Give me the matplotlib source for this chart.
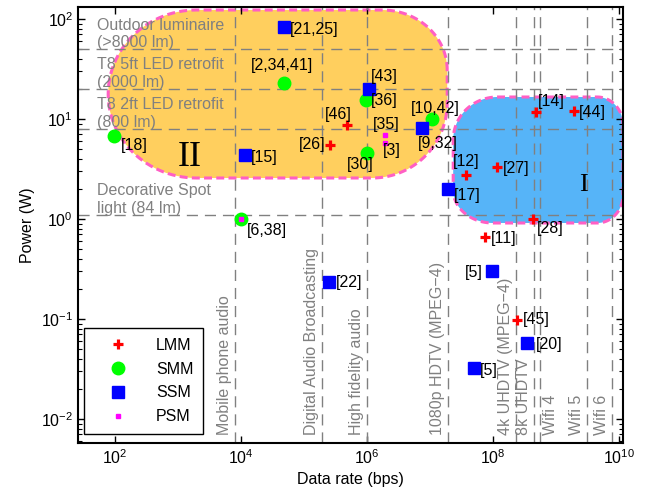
import numpy as np
import matplotlib
matplotlib.use("Agg")
import matplotlib.pyplot as plt
from matplotlib.ticker import LogLocator, NullLocator, FixedLocator

plt.rcParams['font.family'] = ['Liberation Sans', 'DejaVu Sans']
plt.rcParams['mathtext.fontset'] = 'custom'
plt.rcParams['mathtext.rm'] = 'Liberation Sans'
plt.rcParams['mathtext.default'] = 'regular'

# LMM (red plus)
lmm_rate = [2.6e5, 4.8e5, 3.7e7, 1.15e8, 4.8e8, 1.9e9, 4.3e8, 7.4e7, 2.4e8]
lmm_power = [5.5, 8.7, 2.75, 3.3, 11.7, 12.0, 1.0, 0.66, 0.098]
lmm_refs = ['[26]', '[46]', '[12]', '[27]', '[14]', '[44]', '[28]', '[11]', '[45]']

# SMM (green circles)
smm_rate = [96, 4.8e4, 9.6e5, 1.0e6, 1.07e7, 1.0e4]
smm_power = [6.8, 23, 15.5, 4.6, 10.0, 1.0]
smm_refs = ['[18]', '[2,34,41]', '[36]', '[30]', '[10,42]', '[6,38]']

# SSM (blue squares)
ssm_rate = [4.8e4, 1.07e6, 1.16e4, 7.5e6, 1.9e7, 2.5e5, 9.4e7, 3.5e8, 5.0e7]
ssm_power = [83, 20, 4.4, 8.1, 2.0, 0.235, 0.30, 0.057, 0.032]
ssm_refs = ['[21,25]', '[43]', '[15]', '[9,32]', '[17]', '[22]', '[5]', '[20]', '[5]']

# PSM (magenta)
psm_rate = [1.9e6, 1.9e6, 1.0e4]
psm_power = [6.9, 5.75, 1.0]
psm_refs = ['[35]', '[3]', '']

# reference lines
app_names = ['Mobile phone audio', 'Digital Audio Broadcasting', 'High fidelity audio',
             '1080p HDTV (MPEG\u22124)', '4k UHDTV (MPEG\u22124)', '8k UHDTV',
             'Wifi 4', 'Wifi 5', 'Wifi 6']
app_rate = [8e3, 1.9e5, 1.0e6, 1.9e7, 2.3e8, 4.5e8, 5.5e8, 3.1e9, 7.8e9]
light_names = ['Outdoor luminaire\n(>8000 lm)', 'T8 5ft LED retrofit\n(2000 lm)',
               'T8 2ft LED retrofit\n(800 lm)', 'Decorative Spot\nlight (84 lm)']
light_power = [50, 20, 8, 1.1]

# label offsets in pixels (dx, dy, ha)
lmm_off = [(-5, 0, 'right'), (-9, 11, 'center'), (0, 14, 'center'), (6, -1, 'left'),
           (2, 11, 'left'), (5, -1, 'left'), (4, -10, 'left'), (6, -1, 'left'), (6, 0, 'left')]
smm_off = [(7, -10, 'left'), (-2, 17, 'center'), (5, -1, 'left'), (-7, -12, 'center'),
           (3, 11, 'center'), (6, -11, 'left')]
ssm_off = [(6, -2, 'left'), (2, 12, 'left'), (6, -3, 'left'), (15, -15, 'center'),
           (6, -7, 'left'), (7, -1, 'left'), (-9, -1, 'right'), (8, -1, 'left'), (6, -2, 'left')]
psm_off = [(1, 11, 'center'), (7, -7, 'center'), (0, 0, 'left')]

grey = '#808080'
pink = '#FF5FC4'


def region(ax, lx0, lx1, ly0, ly1, corners, color):
    # corners (rx, ry) in decades: TR, TL, BL, BR
    (r1, r2, r3, r4) = corners
    t = np.linspace(0, np.pi / 2, 30)
    xs = np.concatenate([
        lx1 - r1[0] + r1[0] * np.cos(t), lx0 + r2[0] - r2[0] * np.sin(t),
        lx0 + r3[0] - r3[0] * np.cos(t), lx1 - r4[0] + r4[0] * np.sin(t)])
    ys = np.concatenate([
        ly1 - r1[1] + r1[1] * np.sin(t), ly1 - r2[1] + r2[1] * np.cos(t),
        ly0 + r3[1] - r3[1] * np.sin(t), ly0 + r4[1] - r4[1] * np.cos(t)])
    ax.fill(10 ** xs, 10 ** ys, facecolor=color, edgecolor=pink, lw=2.2,
            ls=(0, (2.6, 1.4)), zorder=1, closed=True)


fig = plt.figure(figsize=(6.52, 4.94), dpi=100)
ax = fig.add_axes([78 / 652, 51 / 494, 545 / 652, 436 / 494])
ax.set_xscale('log')
ax.set_yscale('log')
ax.set_xlim(10 ** 1.41, 10 ** 10.06)
ax.set_ylim(10 ** -2.24, 10 ** 2.12)

region(ax, 1.889, 7.27, 0.41, 2.09,
       [(1.03, 0.6), (1.40, 0.84), (1.40, 0.84), (1.19, 0.75)], '#FFCF5E')
region(ax, 7.365, 10.06, -0.04, 1.22,
       [(0.41, 0.28), (0.7, 0.43), (0.63, 0.33), (0.41, 0.28)], '#56B4F8')

for r in app_rate:
    ax.axvline(r, color=grey, lw=1.0, ls=(0, (8, 5)), zorder=2)
for p in light_power:
    ax.axhline(p, color=grey, lw=1.0, ls=(0, (8, 5)), zorder=2)

for name, r in zip(app_names, app_rate):
    if name == 'Wifi 4':
        dx, ha = 3, 'left'
    else:
        dx, ha = -3, 'right'
    ax.annotate(name, (r, 0), xycoords=('data', 'axes fraction'), xytext=(dx, 8),
                textcoords='offset pixels', rotation=90, ha=ha, va='bottom',
                color=grey, fontsize=11.5, zorder=3)
for name, p in zip(light_names, light_power):
    ax.annotate(name, (0, p), xycoords=('axes fraction', 'data'), xytext=(19, -1),
                textcoords='offset pixels', ha='left', va='bottom',
                color=grey, fontsize=11.5, zorder=3)

ax.text(1500, 4.1, 'II', family='Liberation Serif', fontsize=26, ha='center',
        va='center', zorder=3)
ax.text(2.7e9, 2.2, 'I', family='Liberation Serif', fontsize=19, ha='center',
        va='center', zorder=3)

ax.plot(lmm_rate, lmm_power, ls='none', marker='+', ms=7, mew=2.3, color='#FF0000',
        label='LMM', zorder=5)
ax.plot(smm_rate, smm_power, ls='none', marker='o', ms=9, color='#00FF00',
        label='SMM', zorder=4)
ax.plot(ssm_rate, ssm_power, ls='none', marker='s', ms=9, color='#0000FF',
        label='SSM', zorder=4)
ax.plot(psm_rate, psm_power, ls='none', marker='s', ms=3.5, color='#FF00FF',
        label='PSM', zorder=6)

for rates, powers, refs, offs in [(lmm_rate, lmm_power, lmm_refs, lmm_off),
                                  (smm_rate, smm_power, smm_refs, smm_off),
                                  (ssm_rate, ssm_power, ssm_refs, ssm_off),
                                  (psm_rate, psm_power, psm_refs, psm_off)]:
    for r, p, ref, (dx, dy, ha) in zip(rates, powers, refs, offs):
        if ref:
            ax.annotate(ref, (r, p), xytext=(dx, dy), textcoords='offset pixels',
                        ha=ha, va='center', fontsize=11.5, zorder=7)

ax.xaxis.set_major_locator(FixedLocator([1e2, 1e4, 1e6, 1e8, 1e10]))
ax.xaxis.set_minor_locator(NullLocator())
ax.yaxis.set_major_locator(LogLocator(base=10))
ax.yaxis.set_minor_locator(LogLocator(base=10, subs=np.arange(2, 10)))
ax.tick_params(which='both', direction='in', top=True, right=True, labelsize=11.5)
ax.tick_params(which='major', length=5, width=1)
ax.tick_params(which='minor', length=3, width=0.8)
for s in ax.spines.values():
    s.set_linewidth(1.5)
    s.set_zorder(8)

ax.set_xlabel('Data rate (bps)', fontsize=11.5)
ax.set_ylabel('Power (W)', fontsize=11.5)

leg = ax.legend(loc='lower left', bbox_to_anchor=(0.011, 0.021), borderaxespad=0,
                fontsize=11.5, fancybox=False, edgecolor='black', framealpha=1,
                handlelength=3, handletextpad=0.9, borderpad=0.6, labelspacing=0.55)
leg.get_frame().set_linewidth(1.0)
leg.set_zorder(9)

fig.savefig('out.png', dpi=100)
